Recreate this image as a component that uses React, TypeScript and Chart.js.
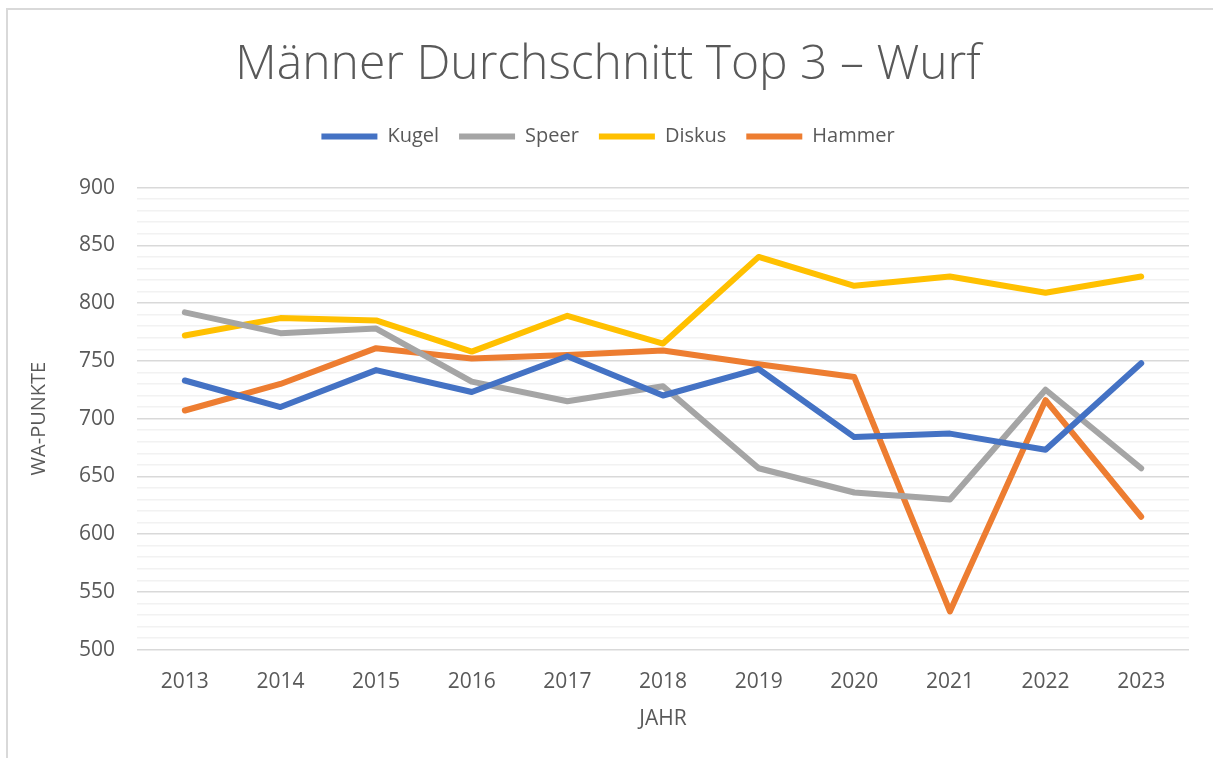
import React, { useEffect, useRef } from "react";
import { Chart, registerables } from "chart.js";

Chart.register(...registerables);

const years = ["2013", "2014", "2015", "2016", "2017", "2018", "2019", "2020", "2021", "2022", "2023"];
const kugel = [733, 710, 742, 723, 754, 720, 743, 684, 687, 673, 748];
const speer = [792, 774, 778, 732, 715, 728, 657, 636, 630, 725, 657];
const diskus = [772, 787, 785, 758, 789, 765, 840, 815, 823, 809, 823];
const hammer = [707, 730, 761, 752, 755, 759, 747, 736, 533, 716, 615];

const titleText = "Männer Durchschnitt Top 3 – Wurf";
const yTitle = "WA-PUNKTE";
const xTitle = "JAHR";

const FONT = "'Open Sans', 'Noto Sans', sans-serif";
const TEXT = "#595959";

const legendMargin = {
  id: "legendMargin",
  beforeInit(chart: any) {
    const legend = chart.legend;
    if (!legend) return;
    const orig = legend.fit;
    legend.fit = function () {
      orig.bind(legend)();
      this.height += 31;
    };
  },
};

export default function App() {
  const ref = useRef<HTMLCanvasElement | null>(null);
  useEffect(() => {
    if (!ref.current) return;
    const mk = (label: string, data: number[], color: string) => ({
      label,
      data,
      borderColor: color,
      backgroundColor: color,
      borderWidth: 6,
      borderCapStyle: "round" as const,
      borderJoinStyle: "round" as const,
      pointRadius: 0,
      pointHoverRadius: 0,
      pointStyle: "line" as const,
      tension: 0,
    });
    const chart = new Chart(ref.current, {
      type: "line",
      data: {
        labels: years,
        datasets: [
          mk("Kugel", kugel, "#4472C4"),
          mk("Speer", speer, "#A5A5A5"),
          mk("Diskus", diskus, "#FFC000"),
          mk("Hammer", hammer, "#ED7D31"),
        ],
      },
      plugins: [legendMargin],
      options: {
        animation: false,
        responsive: false,
        maintainAspectRatio: false,
        layout: { padding: { left: 19, right: 24, top: 27, bottom: 26 } },
        plugins: {
          tooltip: { enabled: false },
          title: {
            display: true,
            text: titleText,
            color: TEXT,
            font: { family: FONT, size: 48, weight: 300 as any },
            padding: { top: 0, bottom: 12 },
          },
          legend: {
            display: true,
            position: "top",
            labels: {
              usePointStyle: true,
              pointStyleWidth: 56,
              boxHeight: 6,
              color: TEXT,
              font: { family: FONT, size: 20 },
              padding: 20,
            },
          },
        },
        scales: {
          x: {
            offset: true,
            grid: { display: false },
            border: { display: false },
            ticks: { color: TEXT, font: { family: FONT, size: 21 }, padding: 12 },
            title: {
              display: true,
              text: xTitle,
              color: TEXT,
              font: { family: FONT, size: 21 },
              padding: { top: 0, bottom: 0 },
            },
          },
          y: {
            min: 500,
            max: 900,
            border: { display: false },
            grid: {
              drawTicks: false,
              lineWidth: 1.5,
              color: (ctx: any) => (ctx.tick && ctx.tick.value % 50 === 0 ? "#d9d9d9" : "#f2f2f2"),
            },
            ticks: {
              stepSize: 10,
              autoSkip: false,
              color: TEXT,
              font: { family: FONT, size: 21 },
              padding: 22,
              callback: (v: any) => (Number(v) % 50 === 0 ? String(v) : ""),
            },
            title: {
              display: true,
              text: yTitle,
              color: TEXT,
              font: { family: FONT, size: 20 },
              padding: { top: 0, bottom: 6 },
            },
          },
        },
      },
    });
    return () => chart.destroy();
  }, []);
  return (
    <div
      style={{
        position: "absolute",
        left: 6,
        top: 8,
        width: 1207,
        height: 750,
        borderTop: "2px solid #d9d9d9",
        borderLeft: "2px solid #d9d9d9",
        background: "#fff",
      }}
    >
      <canvas ref={ref} width={1205} height={748} style={{ display: "block" }} />
    </div>
  );
}
